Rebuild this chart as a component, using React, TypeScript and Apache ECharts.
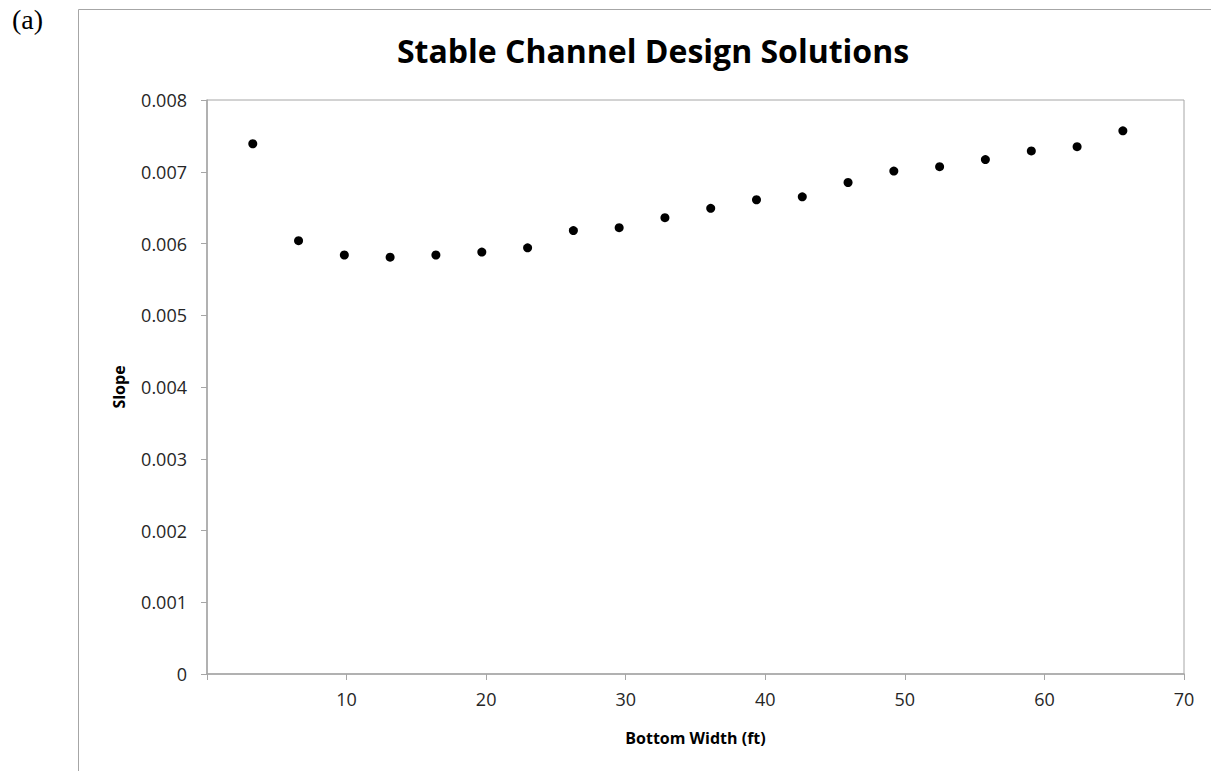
import React, { useEffect, useRef } from "react";
import * as echarts from "echarts";

const bottomWidthFt = [3.28, 6.56, 9.84, 13.12, 16.4, 19.69, 22.97, 26.25, 29.53, 32.81, 36.09, 39.37, 42.65, 45.93, 49.21, 52.49, 55.77, 59.06, 62.34, 65.62];
const slopeValues = [0.00739, 0.00604, 0.00584, 0.00581, 0.00584, 0.00588, 0.00594, 0.00618, 0.00622, 0.00636, 0.00649, 0.00661, 0.00665, 0.00685, 0.00701, 0.00707, 0.00717, 0.00729, 0.00735, 0.00757];

const chartTitle = "Stable Channel Design Solutions";
const xAxisName = "Bottom Width (ft)";
const yAxisName = "Slope";
const panelLabel = "(a)";

export default function App() {
  const ref = useRef<HTMLDivElement>(null);
  useEffect(() => {
    document.body.style.margin = "0";
    const chart = echarts.init(ref.current!, null, { renderer: "svg" });
    const font = "'Open Sans', 'Noto Sans', sans-serif";
    chart.setOption({
      animation: false,
      backgroundColor: "#ffffff",
      title: {
        text: chartTitle,
        left: 648,
        top: 29,
        textAlign: "center",
        textStyle: { fontFamily: font, fontSize: 32, fontWeight: "bold", color: "#000000" },
      },
      graphic: [
        {
          type: "polyline",
          shape: { points: [[78.5, 771], [78.5, 9.5], [1211, 9.5]] },
          style: { stroke: "#a6a6a6", lineWidth: 1, fill: "none" },
        },
        {
          type: "text",
          left: 12,
          top: 5,
          style: { text: panelLabel, font: "28px 'Liberation Serif', serif", fill: "#000000" },
        },
      ],
      grid: {
        left: 207,
        top: 100,
        right: 27,
        bottom: 97,
        show: true,
        borderColor: "#a6a6a6",
        borderWidth: 1,
        containLabel: false,
      },
      xAxis: {
        type: "value",
        min: 0,
        max: 70,
        interval: 10,
        name: xAxisName,
        nameLocation: "middle",
        nameGap: 56,
        nameTextStyle: { fontFamily: font, fontSize: 16, fontWeight: "bold", color: "#000000" },
        axisLine: { show: true, lineStyle: { color: "#a6a6a6", width: 1.5 } },
        axisTick: { show: true, inside: false, length: 6, lineStyle: { color: "#a6a6a6" } },
        axisLabel: {
          margin: 16,
          fontFamily: font,
          fontSize: 18,
          color: "#262626",
          formatter: (v: number) => (v === 0 ? "" : String(v)),
        },
        splitLine: { show: false },
      },
      yAxis: {
        type: "value",
        min: 0,
        max: 0.008,
        interval: 0.001,
        name: yAxisName,
        nameLocation: "middle",
        nameGap: 80,
        nameRotate: 90,
        nameTextStyle: { fontFamily: font, fontSize: 16, fontWeight: "bold", color: "#000000" },
        axisLine: { show: true, lineStyle: { color: "#a6a6a6", width: 1.5 } },
        axisTick: { show: true, inside: false, length: 6, lineStyle: { color: "#a6a6a6" } },
        axisLabel: {
          margin: 20,
          fontFamily: font,
          fontSize: 18,
          color: "#262626",
          formatter: (v: number) => (v === 0 ? "0" : v.toFixed(3)),
        },
        splitLine: { show: false },
      },
      series: [
        {
          type: "scatter",
          data: bottomWidthFt.map((x, i) => [x, slopeValues[i]]),
          symbol: "circle",
          symbolSize: 9,
          itemStyle: { color: "#000000", opacity: 1 },
        },
      ],
    });
    return () => chart.dispose();
  }, []);
  return <div ref={ref} style={{ width: 1211, height: 771, position: "absolute", left: 0, top: 0 }} />;
}
